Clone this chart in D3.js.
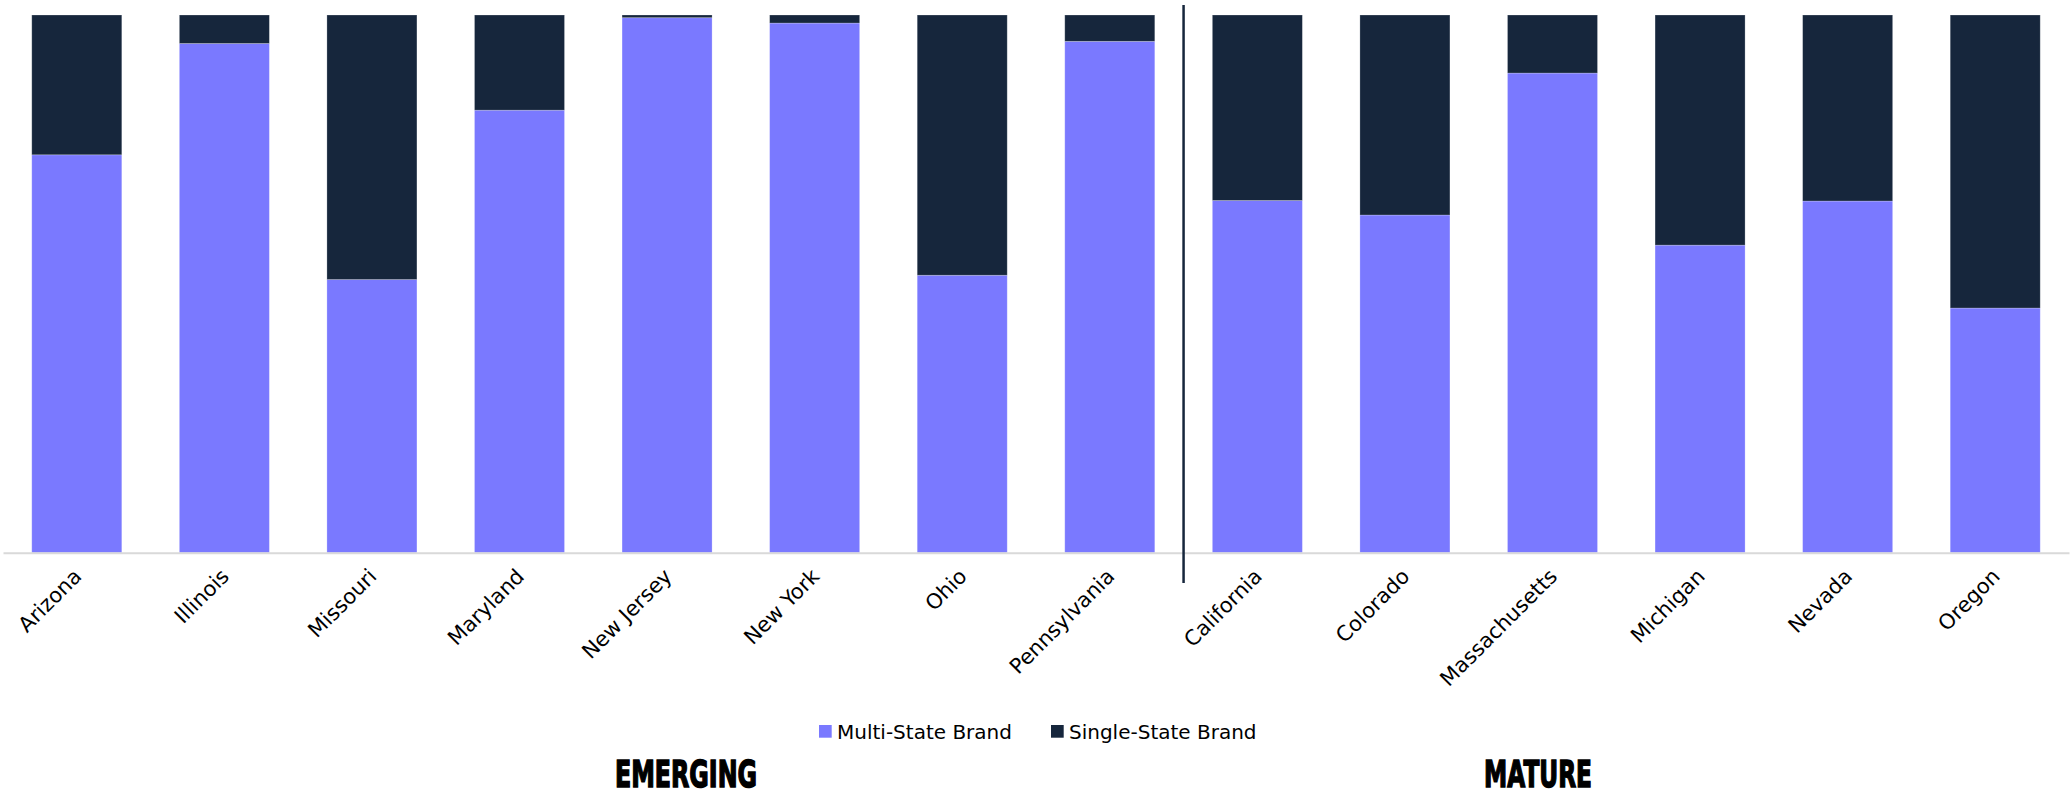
<!DOCTYPE html>
<html>
<head>
<meta charset="utf-8">
<script src="https://cdn.jsdelivr.net/npm/d3@7"></script>
<style>
  html, body { margin: 0; padding: 0; background: #fff; }
  svg { display: block; }
</style>
</head>
<body>
<svg id="chart" width="2070" height="801"></svg>
<script>
const categories = ["Arizona", "Illinois", "Missouri", "Maryland", "New Jersey", "New York", "Ohio", "Pennsylvania",
                    "California", "Colorado", "Massachusetts", "Michigan", "Nevada", "Oregon"];
const multiState  = [0.740, 0.947, 0.508, 0.823, 0.995, 0.985, 0.516, 0.951, 0.655, 0.628, 0.892, 0.572, 0.654, 0.455];
const singleState = [0.260, 0.053, 0.492, 0.177, 0.005, 0.015, 0.484, 0.049, 0.345, 0.372, 0.108, 0.428, 0.346, 0.545];
const seriesNames = ["Multi-State Brand", "Single-State Brand"];
const seriesColors = ["#7A79FF", "#16263C"];
const emergingStates = ["Arizona", "Illinois", "Missouri", "Maryland", "New Jersey", "New York", "Ohio", "Pennsylvania"];
const matureStates = ["California", "Colorado", "Massachusetts", "Michigan", "Nevada", "Oregon"];
const groupTitles = ["EMERGING", "MATURE"];

const svg = d3.select("#chart");
const x = d3.scaleBand().domain(categories).range([3, 2069]).paddingInner(0.39).paddingOuter(0.195);
const y = d3.scaleLinear().domain([0, 1]).range([552.7, 15]);

const table = categories.map((c, i) => ({ cat: c, "Multi-State Brand": multiState[i], "Single-State Brand": singleState[i] }));
const stacked = d3.stack().keys(seriesNames)(table);
const color = d3.scaleOrdinal().domain(seriesNames).range(seriesColors);

svg.append("g").selectAll("g").data(stacked).join("g")
  .attr("fill", d => color(d.key))
  .selectAll("rect").data(d => d).join("rect")
  .attr("x", d => x(d.data.cat))
  .attr("width", x.bandwidth())
  .attr("y", d => y(d[1]))
  .attr("height", d => y(d[0]) - y(d[1]))
  .attr("stroke", "#ffffff").attr("stroke-opacity", 0.3).attr("stroke-width", 0.8);

// x axis
const xAxis = d3.axisBottom(x).tickSize(0).tickPadding(0);
const ax = svg.append("g").attr("transform", `translate(0,${y(0)})`).call(xAxis);
ax.select(".domain").attr("stroke", "#d9d9d9").attr("stroke-width", 2);
ax.selectAll(".tick text")
  .attr("font-family", "DejaVu Sans, sans-serif")
  .attr("font-size", 21)
  .attr("fill", "#000")
  .attr("text-anchor", "end")
  .attr("dy", null).attr("y", null)
  .attr("transform", "translate(6,25) rotate(-45)");

// divider between groups
const lastEm = emergingStates[emergingStates.length - 1];
const firstMa = matureStates[0];
const divX = (x(lastEm) + x.bandwidth() + x(firstMa)) / 2;
svg.append("line")
  .attr("x1", divX).attr("x2", divX)
  .attr("y1", 5).attr("y2", 583)
  .attr("stroke", "#16263C").attr("stroke-width", 2.5);

// legend
const legend = svg.append("g").attr("font-family", "DejaVu Sans, sans-serif").attr("font-size", 20);
const legendX = [819, 1051];
seriesNames.forEach((s, i) => {
  const g = legend.append("g").attr("transform", `translate(${legendX[i]},725)`);
  g.append("rect").attr("width", 12.7).attr("height", 12.7).attr("fill", color(s));
  g.append("text").attr("x", 18).attr("y", 13.5).attr("fill", "#000").text(s);
});

// group titles
const titleX = [615, 1484];
const titleW = [142, 108];
groupTitles.forEach((t, i) => {
  svg.append("text")
    .attr("x", titleX[i]).attr("y", 787)
    .attr("font-family", "DejaVu Sans, sans-serif")
    .attr("font-weight", "bold")
    .attr("font-size", 38)
    .attr("fill", "#000").attr("stroke", "#000").attr("stroke-width", 1.6)
    .attr("textLength", titleW[i])
    .attr("lengthAdjust", "spacingAndGlyphs")
    .text(t);
});
</script>
</body>
</html>
